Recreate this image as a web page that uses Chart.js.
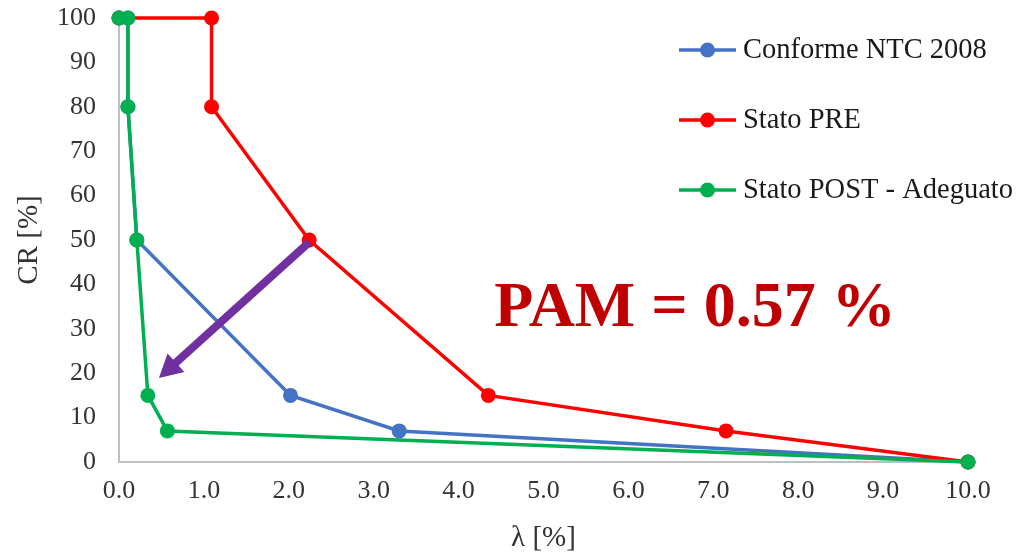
<!DOCTYPE html>
<html>
<head>
<meta charset="utf-8">
<style>
  html, body { margin: 0; padding: 0; background: #ffffff; }
  #wrap { width: 1017px; height: 556px; }
</style>
<script src="https://cdn.jsdelivr.net/npm/chart.js@4/dist/chart.umd.min.js"></script>
</head>
<body>
<div id="wrap"><canvas id="chart" width="1017" height="556"></canvas></div>
<script>
// Series: lambda [%] (annual exceedance frequency) vs CR [%] (reconstruction cost)
const seriesNames = ['Conforme NTC 2008', 'Stato PRE', 'Stato POST - Adeguato'];
const seriesColors = ['#4472C4', '#FF0000', '#00B050'];

const lambdaNTC = [10.0, 3.30, 2.02, 0.21, 0.105, 0.105, 0.0];
const crNTC     = [0, 7, 15, 50, 80, 100, 100];

const lambdaPRE = [10.0, 7.15, 4.35, 2.24, 1.09, 1.09, 0.0];
const crPRE     = [0, 7, 15, 50, 80, 100, 100];

const lambdaPOST = [10.0, 0.57, 0.34, 0.21, 0.105, 0.105, 0.0];
const crPOST     = [0, 7, 15, 50, 80, 100, 100];

const xTicks = [0, 1, 2, 3, 4, 5, 6, 7, 8, 9, 10];
const yTicks = [0, 10, 20, 30, 40, 50, 60, 70, 80, 90, 100];

// Arrow from the PRE curve towards the POST curve (data coordinates)
const arrowFrom = { x: 2.24, y: 49.5 };
const arrowTo   = { x: 0.47, y: 18.9 };
const pamLabel = 'PAM = 0.57 %';

const toPoints = (xs, ys) => xs.map((x, i) => ({ x: x, y: ys[i] }));

const serif = "'Liberation Serif', 'Times New Roman', serif";
const textColor = '#333333';

function makeDataset(i, xs, ys, order) {
  return {
    label: seriesNames[i],
    data: toPoints(xs, ys),
    borderColor: seriesColors[i],
    backgroundColor: seriesColors[i],
    borderWidth: 3.5,
    pointRadius: 7.5,
    pointHoverRadius: 7.5,
    pointBorderWidth: 0,
    showLine: true,
    tension: 0,
    clip: false,
    order: order
  };
}

// Legend drawn as line + dot samples overlaid at the upper right
const overlayLegend = {
  id: 'overlayLegend',
  afterDatasetsDraw(chart) {
    const ctx = chart.ctx;
    const x0 = 679, x1 = 736, tx = 743;
    const rows = [50, 120, 190];
    ctx.save();
    chart.data.datasets.forEach((ds, i) => {
      const y = rows[i];
      ctx.strokeStyle = ds.borderColor;
      ctx.lineWidth = 3.5;
      ctx.beginPath();
      ctx.moveTo(x0, y);
      ctx.lineTo(x1, y);
      ctx.stroke();
      ctx.fillStyle = ds.backgroundColor;
      ctx.beginPath();
      ctx.arc((x0 + x1) / 2, y, 7.5, 0, Math.PI * 2);
      ctx.fill();
      ctx.fillStyle = '#1a1a1a';
      ctx.font = '28.5px ' + serif;
      ctx.textAlign = 'left';
      ctx.textBaseline = 'middle';
      ctx.fillText(ds.label, tx, y + 1);
    });
    ctx.restore();
  }
};

// Purple arrow and PAM annotation
const annotations = {
  id: 'annotations',
  afterDatasetsDraw(chart) {
    const ctx = chart.ctx;
    const xs = chart.scales.x, ys = chart.scales.y;
    const ax = xs.getPixelForValue(arrowFrom.x), ay = ys.getPixelForValue(arrowFrom.y);
    const bx = xs.getPixelForValue(arrowTo.x), by = ys.getPixelForValue(arrowTo.y);
    const ang = Math.atan2(by - ay, bx - ax);
    const headLen = 23, headHalf = 12.5;
    const hx = bx - headLen * Math.cos(ang), hy = by - headLen * Math.sin(ang);
    ctx.save();
    ctx.strokeStyle = '#7030A0';
    ctx.fillStyle = '#7030A0';
    ctx.lineWidth = 8;
    ctx.lineCap = 'butt';
    ctx.beginPath();
    ctx.moveTo(ax, ay);
    ctx.lineTo(hx + 4 * Math.cos(ang), hy + 4 * Math.sin(ang));
    ctx.stroke();
    ctx.beginPath();
    ctx.moveTo(bx, by);
    ctx.lineTo(hx + headHalf * Math.sin(ang), hy - headHalf * Math.cos(ang));
    ctx.lineTo(hx - headHalf * Math.sin(ang), hy + headHalf * Math.cos(ang));
    ctx.closePath();
    ctx.fill();

    ctx.fillStyle = '#C00000';
    ctx.font = 'bold 64px ' + serif;
    ctx.textAlign = 'center';
    ctx.textBaseline = 'alphabetic';
    ctx.fillText(pamLabel, 695, 326);
    ctx.restore();
  }
};

new Chart(document.getElementById('chart'), {
  type: 'scatter',
  data: {
    datasets: [
      makeDataset(0, lambdaNTC, crNTC, 2),
      makeDataset(1, lambdaPRE, crPRE, 1),
      makeDataset(2, lambdaPOST, crPOST, 0)
    ]
  },
  options: {
    responsive: false,
    animation: false,
    devicePixelRatio: 1,
    layout: { padding: { left: 0, right: 49, top: 18, bottom: 0 } },
    plugins: {
      legend: { display: false },
      tooltip: { enabled: false }
    },
    scales: {
      x: {
        type: 'linear',
        min: 0,
        max: 10,
        afterBuildTicks(scale) { scale.ticks = xTicks.map(v => ({ value: v })); },
        afterFit(scale) { scale.height = 94; scale.paddingLeft = 0; scale.paddingRight = 0; },
        grid: { display: false, drawTicks: false },
        border: { display: true, color: '#BFBFBF', width: 2 },
        ticks: {
          padding: 14,
          color: textColor,
          font: { family: serif, size: 26 },
          callback: v => Number(v).toFixed(1)
        },
        title: {
          display: true,
          text: 'λ [%]',
          color: textColor,
          font: { family: serif, size: 29 },
          padding: { top: 4, bottom: 0 }
        }
      },
      y: {
        type: 'linear',
        min: 0,
        max: 100,
        afterBuildTicks(scale) { scale.ticks = yTicks.map(v => ({ value: v })); },
        afterFit(scale) { scale.width = 119; scale.paddingTop = 0; scale.paddingBottom = 0; },
        grid: { display: false, drawTicks: false },
        border: { display: true, color: '#BFBFBF', width: 2 },
        ticks: {
          padding: 23,
          color: textColor,
          font: { family: serif, size: 26 }
        },
        title: {
          display: true,
          text: 'CR [%]',
          color: textColor,
          font: { family: serif, size: 29 },
          padding: { top: 12, bottom: 4 }
        }
      }
    }
  },
  plugins: [overlayLegend, annotations]
});
</script>
</body>
</html>
